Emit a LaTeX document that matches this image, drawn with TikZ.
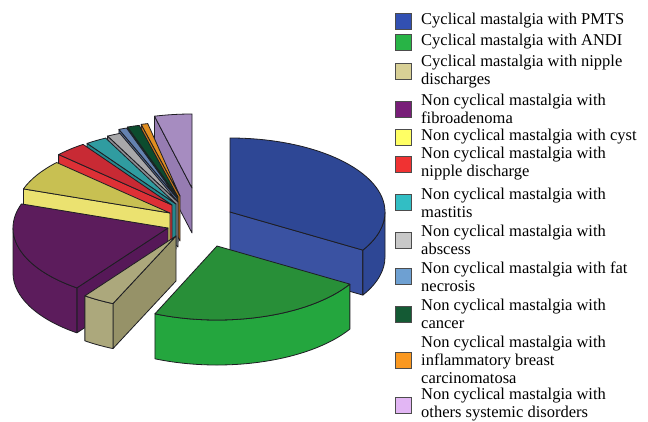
\documentclass[tikz,border=0pt]{standalone}
\usepackage{fontspec}
\setmainfont{Liberation Serif}
\usepackage{tikz}
\definecolor{ink}{RGB}{30,30,35}
\definecolor{pmtsA}{RGB}{46,71,149}
\definecolor{pmtsB}{RGB}{58,82,162}
\definecolor{andiA}{RGB}{40,143,56}
\definecolor{andiB}{RGB}{36,166,62}
\definecolor{nipA}{RGB}{172,168,124}
\definecolor{nipB}{RGB}{150,146,104}
\definecolor{fibA}{RGB}{92,28,92}
\definecolor{fibB}{RGB}{86,24,88}
\definecolor{cystA}{RGB}{200,192,82}
\definecolor{cystB}{RGB}{235,226,112}
\definecolor{redA}{RGB}{200,42,52}
\definecolor{redB}{RGB}{222,48,54}
\definecolor{tealA}{RGB}{48,156,160}
\definecolor{tealB}{RGB}{38,136,142}
\definecolor{grayA}{RGB}{168,168,170}
\definecolor{grayB}{RGB}{140,140,145}
\definecolor{ltbA}{RGB}{100,130,176}
\definecolor{ltbB}{RGB}{80,108,150}
\definecolor{dkgA}{RGB}{12,76,46}
\definecolor{dkgB}{RGB}{8,60,36}
\definecolor{orA}{RGB}{226,142,32}
\definecolor{orB}{RGB}{196,118,24}
\definecolor{lavA}{RGB}{166,140,192}
\definecolor{lavB}{RGB}{150,124,178}
% legend colours
\definecolor{kPMTS}{RGB}{50,80,178}
\definecolor{kANDI}{RGB}{40,180,70}
\definecolor{kNIP}{RGB}{216,208,150}
\definecolor{kFIB}{RGB}{120,30,120}
\definecolor{kCYST}{RGB}{255,255,100}
\definecolor{kRED}{RGB}{240,50,50}
\definecolor{kTEAL}{RGB}{50,190,196}
\definecolor{kGRAY}{RGB}{200,200,200}
\definecolor{kLTB}{RGB}{110,160,210}
\definecolor{kDKG}{RGB}{20,90,52}
\definecolor{kOR}{RGB}{250,152,32}
\definecolor{kLAV}{RGB}{226,182,244}
\tikzset{slice/.style={draw=ink, line width=0.8pt, line join=round}}
\tikzset{legbox/.style={draw=black!70, line width=0.8pt, minimum size=16pt, inner sep=0pt}}
\tikzset{legtext/.style={anchor=west, inner sep=0pt, align=left, font=\fontsize{16.5}{18}\selectfont}}
% pie pieces: apex, angles, colour
\newcommand{\ptop}[4]{\draw[slice,fill=#4] (#1) -- ++(#2:155pt and 74pt) arc[start angle=#2,end angle=#3,x radius=155pt,y radius=74pt] -- cycle;}
\newcommand{\pwall}[4]{\draw[slice,fill=#4] (#1) ++(#2:155pt and 74pt) arc[start angle=#2,end angle=#3,x radius=155pt,y radius=74pt] -- ++(0,-45) arc[start angle=#3,end angle=#2,x radius=155pt,y radius=74pt] -- cycle;}
\newcommand{\pcut}[3]{\draw[slice,fill=#3] (#1) -- ++(#2:155pt and 74pt) -- ++(0,-45) -- ++(#2+180:155pt and 74pt) -- cycle;}

\begin{document}
\begin{tikzpicture}[x=1pt,y=1pt]
\useasboundingbox (0,0) rectangle (648,421);

% back slices first
\pcut{192,233}{104}{lavB}
\ptop{192,233}{104}{90}{lavA}
\pcut{180,225}{104.5}{orB}
\ptop{180,225}{104.5}{102}{orA}
\pcut{178,224}{109}{dkgB}
\ptop{178,224}{109}{104.5}{dkgA}
\pcut{177,223}{112}{ltbB}
\ptop{177,223}{112}{109}{ltbA}
\pcut{178,219}{117}{grayB}
\ptop{178,219}{117}{112}{grayA}
\pcut{176,217}{125}{tealB}
\ptop{176,217}{125}{117}{tealA}
\pcut{172,216}{137}{redB}
\ptop{172,216}{137}{125}{redA}
\pcut{170,208}{161}{cystB}
\ptop{170,208}{161}{137}{cystA}
% fibroadenoma
\pcut{168,193}{-126}{fibB}
\pwall{168,193}{-126}{-180}{fibA}
\ptop{168,193}{-126}{-199}{fibA}
% nipple discharges
\pcut{176,185}{-114}{nipB}
\pwall{176,185}{-114}{-126}{nipA}
\ptop{176,185}{-114}{-126}{nipA}
% PMTS
\pcut{230,209}{-31}{pmtsB}
\pwall{230,209}{0}{-31}{pmtsA}
\ptop{230,209}{90}{-31}{pmtsA}
% ANDI
\pwall{217,175}{-31}{-113.6}{andiB}
\ptop{217,175}{-31}{-113.6}{andiA}

% legend
\node (k1) at (403,400)[legbox,fill=kPMTS]{};
\node (t1) at (421,400)[legtext]{Cyclical mastalgia with PMTS};
\node (k2) at (403,379)[legbox,fill=kANDI]{};
\node (t2) at (421,379)[legtext]{Cyclical mastalgia with ANDI};
\node (k3) at (403,349.5)[legbox,fill=kNIP]{};
\node (t3) at (421,349.5)[legtext]{Cyclical mastalgia with nipple\\discharges};
\node (k4) at (403,312)[legbox,fill=kFIB]{};
\node (t4) at (421,312)[legtext]{Non cyclical mastalgia with\\fibroadenoma};
\node (k5) at (403,284)[legbox,fill=kCYST]{};
\node (t5) at (421,284)[legtext]{Non cyclical mastalgia with cyst};
\node (k6) at (403,257)[legbox,fill=kRED]{};
\node (t6) at (421,257)[legtext]{Non cyclical mastalgia with\\nipple discharge};
\node (k7) at (403,218.5)[legbox,fill=kTEAL]{};
\node (t7) at (421,218.5)[legtext]{Non cyclical mastalgia with\\mastitis};
\node (k8) at (403,181)[legbox,fill=kGRAY]{};
\node (t8) at (421,181)[legtext]{Non cyclical mastalgia with\\abscess};
\node (k9) at (403,144.5)[legbox,fill=kLTB]{};
\node (t9) at (421,144.5)[legtext]{Non cyclical mastalgia with fat\\necrosis};
\node (k10) at (403,107)[legbox,fill=kDKG]{};
\node (t10) at (421,107)[legtext]{Non cyclical mastalgia with\\cancer};
\node (k11) at (403,61)[legbox,fill=kOR]{};
\node (t11) at (421,61)[legtext]{Non cyclical mastalgia with\\inflammatory breast\\carcinomatosa};
\node (k12) at (403,16)[legbox,fill=kLAV]{};
\node (t12) at (421,16)[legtext]{Non cyclical mastalgia with\\others systemic disorders};
\end{tikzpicture}
\end{document}
